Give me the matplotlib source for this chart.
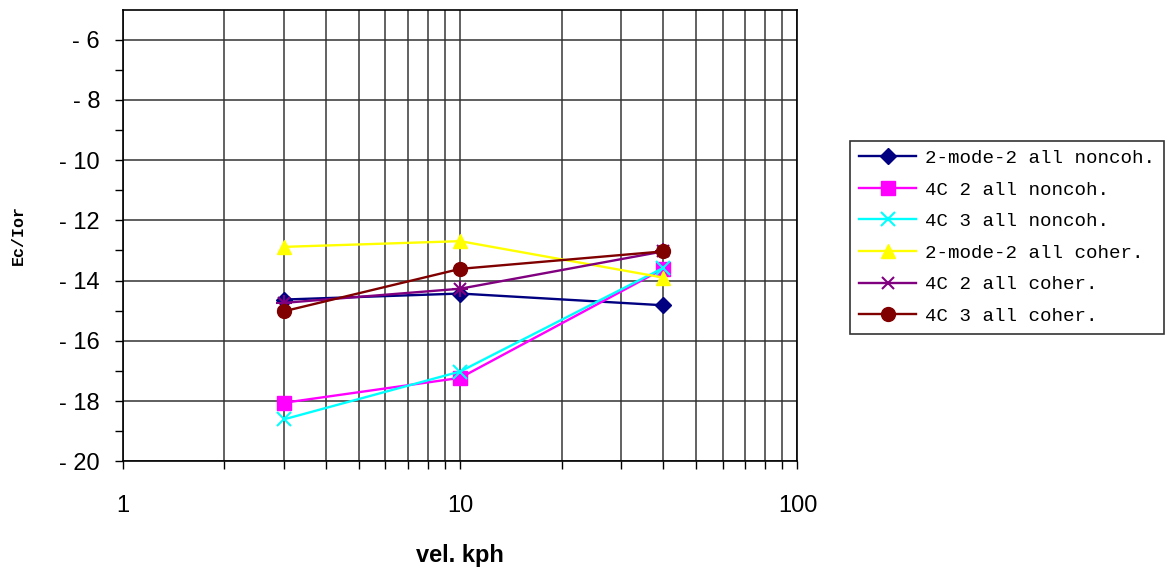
import matplotlib
matplotlib.use("Agg")
import matplotlib.pyplot as plt
from matplotlib.ticker import FixedLocator, FuncFormatter, NullFormatter, LogLocator

speeds = [3, 10, 40]

series_names = [
    "2-mode-2 all noncoh.",
    "4C 2 all noncoh.",
    "4C 3 all noncoh.",
    "2-mode-2 all coher.",
    "4C 2 all coher.",
    "4C 3 all coher.",
]
mode2_noncoh = [-14.63, -14.43, -14.82]
c42_noncoh = [-18.06, -17.23, -13.61]
c43_noncoh = [-18.61, -17.02, -13.58]
mode2_coher = [-12.88, -12.69, -13.90]
c42_coher = [-14.74, -14.27, -13.03]
c43_coher = [-15.02, -13.61, -13.03]

colors = ["#000080", "#ff00ff", "#00ffff", "#ffff00", "#800080", "#800000"]
markers = ["D", "s", "x", "^", "*", "o"]

y_ticks = [-20, -18, -16, -14, -12, -10, -8, -6]


def main():
    fig = plt.figure(figsize=(11.71, 5.68), dpi=100)
    ax = fig.add_axes([0.105, 0.188, 0.576, 0.795])

    data = [mode2_noncoh, c42_noncoh, c43_noncoh, mode2_coher, c42_coher, c43_coher]
    for name, vals, c, m in zip(series_names, data, colors, markers):
        if m == "*":
            ax.plot(speeds, vals, color=c, lw=1.7, marker="x", ms=9, mew=1.5, label=name, zorder=3)
            ax.plot(speeds, vals, color=c, lw=0, marker="+", ms=11, mew=1.5, zorder=3)
        elif m == "x":
            ax.plot(speeds, vals, color=c, lw=1.7, marker=m, ms=10, mew=1.5, label=name, zorder=3)
        else:
            ms = 8 if m == "D" else 10
            ax.plot(speeds, vals, color=c, lw=1.7, marker=m, ms=ms, mec=c, label=name, zorder=3)

    ax.set_xscale("log")
    ax.set_xlim(1, 100)
    ax.set_ylim(-20, -5)

    ax.xaxis.set_major_locator(FixedLocator([1, 10, 100]))
    ax.xaxis.set_minor_locator(LogLocator(base=10, subs=range(2, 10)))
    ax.xaxis.set_major_formatter(FuncFormatter(lambda v, p: f"{v:g}"))
    ax.xaxis.set_minor_formatter(NullFormatter())
    ax.yaxis.set_major_locator(FixedLocator(y_ticks))
    ax.yaxis.set_minor_locator(FixedLocator([-19, -17, -15, -13, -11, -9, -7]))
    ax.yaxis.set_major_formatter(FuncFormatter(lambda v, p: f"- {abs(v):g}"))

    ax.grid(True, which="both", axis="x", color="#555555", lw=1.3)
    ax.grid(True, which="major", axis="y", color="#333333", lw=1.1)
    ax.set_axisbelow(True)

    ax.tick_params(axis="both", which="both", direction="out", color="black")
    ax.tick_params(axis="both", which="major", length=5.5, width=1, labelsize=17)
    ax.tick_params(axis="both", which="minor", length=5.5, width=1)
    ax.tick_params(axis="y", which="major", pad=11)
    ax.tick_params(axis="x", which="major", pad=19)
    for lbl in ax.get_xticklabels() + ax.get_yticklabels():
        lbl.set_family("Liberation Sans")

    for s in ax.spines.values():
        s.set_color("black")
        s.set_linewidth(1.2)

    ax.set_xlabel("vel. kph", fontsize=17, fontweight="bold", family="Liberation Sans", labelpad=19)
    ax.set_ylabel("Ec/Ior", fontsize=12, fontweight="bold", family="Liberation Mono", labelpad=24)

    leg = ax.legend(loc="upper left", bbox_to_anchor=(0.726, 0.752), bbox_transform=fig.transFigure,
                    prop={"family": "Liberation Mono", "size": 13.8}, frameon=True, fancybox=False,
                    edgecolor="black", borderpad=0.45, labelspacing=0.74, handlelength=3.0,
                    handletextpad=0.45, borderaxespad=0)
    leg.get_frame().set_linewidth(1.2)

    fig.savefig("out.png", dpi=100)


if __name__ == "__main__":
    main()
